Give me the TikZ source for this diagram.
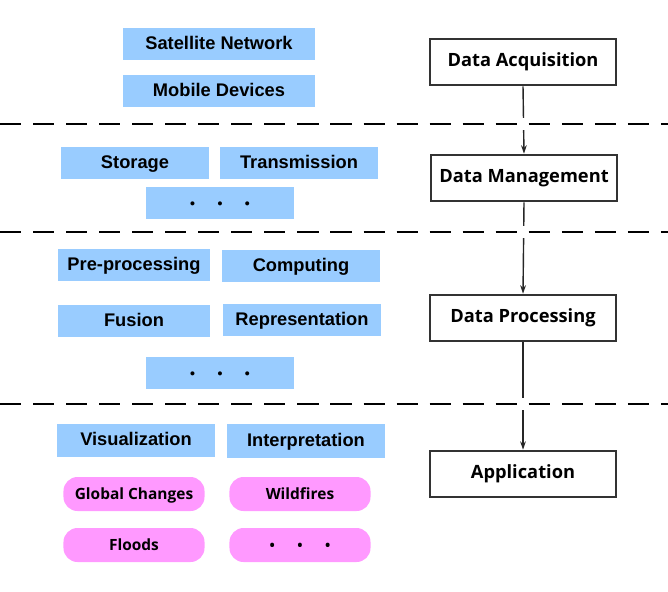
\documentclass[tikz,border=0pt]{standalone}
\usepackage{fontspec}
\setmainfont{Liberation Sans}
\newfontfamily\stagefont{Open Sans}
\usetikzlibrary{arrows.meta,positioning}

\definecolor{itemblue}{HTML}{99CCFF}
\definecolor{itempink}{HTML}{FF99FF}

\newcommand{\threedots}{{\fontsize{10}{10}\selectfont\textbullet\hspace{1.6em}\textbullet\hspace{1.6em}\textbullet}}

\begin{document}
\begin{tikzpicture}[x=0.025cm, y=-0.025cm,
    itembox/.style={rectangle, fill=itemblue, inner sep=0pt, minimum height=0.8cm, text height=1.4ex, text depth=0.05ex, font=\fontsize{13}{14}\selectfont\bfseries},
    appbox/.style={rectangle, rounded corners=10pt, fill=itempink, inner sep=0pt, minimum width=3.525cm, minimum height=0.85cm, text height=1.4ex, text depth=0.05ex, font=\stagefont\fontsize{11}{12}\selectfont\bfseries},
    stagebox/.style={rectangle, draw=black!80, line width=1.8pt, fill=white, inner sep=0pt, minimum width=4.65cm, minimum height=1.15cm, text height=1.35ex, text depth=0.05ex, font=\stagefont\fontsize{13}{15}\selectfont\bfseries},
    sepline/.style={line width=2pt, dash pattern=on 15pt off 8.5pt, preaction={draw=white, solid, line width=9pt}},
    arrow/.style={-{Stealth[length=6pt, width=4pt]}, line width=1pt, black!85}]

    \useasboundingbox (0,0) rectangle (668,591);

    % Data acquisition items
    \node[itembox, minimum width=4.8cm] (sat) at (219,44) {Satellite Network};
    \node[itembox, minimum width=4.8cm] (mob) at (219,91) {Mobile Devices};

    % Data management items
    \node[itembox, minimum width=3.7cm] (store) at (135,163) {Storage};
    \node[itembox, minimum width=3.925cm] (trans) at (299,163) {Transmission};
    \node[itembox, minimum width=3.7cm] (mgmtmore) at (220,203) {\threedots};

    % Data processing items
    \node[itembox, minimum width=3.775cm] (prep) at (134,265) {Pre-processing};
    \node[itembox, minimum width=3.95cm] (comp) at (301,266) {Computing};
    \node[itembox, minimum width=3.775cm] (fus) at (134,321) {Fusion};
    \node[itembox, minimum width=3.925cm] (repr) at (302,320) {Representation};
    \node[itembox, minimum width=3.7cm] (procmore) at (220,373) {\threedots};

    % Application items
    \node[itembox, minimum width=3.925cm, minimum height=0.825cm] (vis) at (136,440) {Visualization};
    \node[itembox, minimum width=3.95cm, minimum height=0.85cm] (interp) at (306,441) {Interpretation};
    \node[appbox] (glob) at (134,494) {Global Changes};
    \node[appbox] (fire) at (300,494) {Wildfires};
    \node[appbox] (flood) at (134,545) {Floods};
    \node[appbox] (appmore) at (300,545) {\threedots};

    % Stages
    \node[stagebox] (acq) at (523,62) {Data Acquisition};
    \node[stagebox] (mgmt) at (524,178) {Data Management};
    \node[stagebox] (proc) at (523,318) {Data Processing};
    \node[stagebox] (app) at (523,474) {Application};

    % Arrows
    \draw[arrow] (acq.south) -- (mgmt.north);
    \draw[arrow] (mgmt.south) -- (proc.north);
    \draw[arrow] (proc.south) -- (app.north);

    % Separators
    \draw[sepline] (0,124) -- (668,124);
    \draw[sepline] (0,232) -- (668,232);
    \draw[sepline] (0,404) -- (668,404);

\end{tikzpicture}
\end{document}
